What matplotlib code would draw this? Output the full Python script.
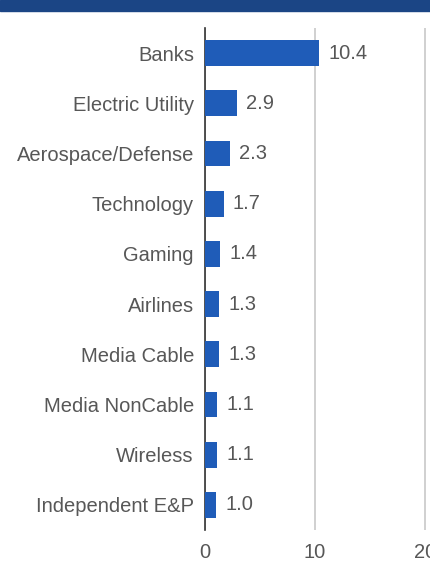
import matplotlib
matplotlib.use('Agg')
import matplotlib.pyplot as plt
from matplotlib.patches import Rectangle

# sectors and values, top to bottom as shown
sectors = ['Banks', 'Electric Utility', 'Aerospace/Defense', 'Technology', 'Gaming',
           'Airlines', 'Media Cable', 'Media NonCable', 'Wireless', 'Independent E&P']
values = [10.4, 2.9, 2.3, 1.7, 1.4, 1.3, 1.3, 1.1, 1.1, 1.0]
xticks = [0, 10, 20]

bar_color = '#1f5cb8'
text_color = '#575757'
plt.rcParams['font.family'] = ['Liberation Sans Narrow', 'Liberation Sans', 'DejaVu Sans']

fig = plt.figure(figsize=(4.30, 5.64), dpi=100)
fig.patches.append(Rectangle((0, 1 - 11 / 564), 1, 11 / 564, transform=fig.transFigure,
                             color='#1b4585', zorder=0))

ax = fig.add_axes([205 / 430, 34 / 564, 225 / 430, 502 / 564])
ypos = list(range(len(sectors)))[::-1]
ax.barh(ypos, values, height=0.51, color=bar_color, zorder=3)
for y, v in zip(ypos, values):
    ax.annotate(f'{v:.1f}', (v, y), xytext=(6.5, 0), textcoords='offset points',
                va='center', ha='left', fontsize=14.5, color=text_color)

ax.set_xlim(0, 225 / 11)
ax.set_ylim(-0.5, len(sectors) - 0.5)
ax.set_yticks(ypos)
ax.set_yticklabels(sectors)
ax.set_xticks(xticks)
ax.tick_params(axis='both', length=0, labelsize=14.5, labelcolor=text_color)
ax.tick_params(axis='y', pad=8)
ax.tick_params(axis='x', pad=9)
for s in ['top', 'right', 'bottom']:
    ax.spines[s].set_visible(False)
ax.spines['left'].set_color('#333333')
ax.spines['left'].set_linewidth(1.2)
ax.xaxis.grid(True, color='#c8c8c8', linewidth=1.2, zorder=0)
ax.set_axisbelow(True)

fig.savefig('out.png', dpi=100)
